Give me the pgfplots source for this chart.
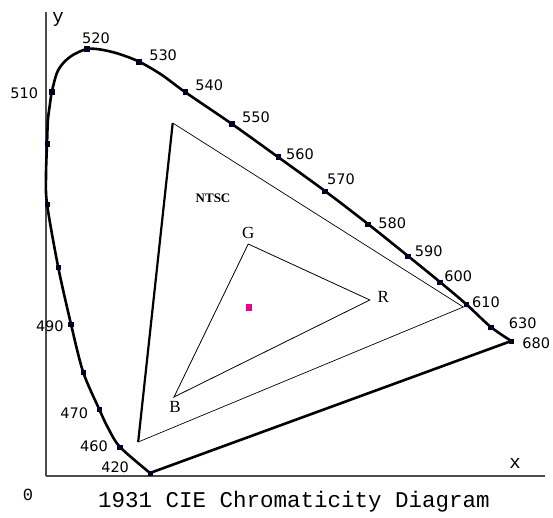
\documentclass[border=0pt]{standalone}
\usepackage{pgfplots}
\pgfplotsset{compat=1.18}
\usepackage{fontspec}
\setmainfont{Liberation Serif}
\newfontfamily\lblfont{DejaVu Sans}
\newfontfamily\monofont{Liberation Mono}
\tikzset{wl/.style={font=\lblfont\fontsize{14.5}{16}\selectfont, inner sep=0pt}}

\begin{document}
\begin{tikzpicture}
\useasboundingbox (-46pt,-41pt) rectangle (507pt,476pt);
\begin{axis}[
    at={(0pt,0pt)}, anchor=south west,
    x=640pt, y=500pt,
    xmin=0, xmax=0.78, ymin=0, ymax=0.928,
    axis lines=left,
    axis line style={-, line width=1.1pt, color=black!70},
    xtick=\empty, ytick=\empty,
    clip=false,
]
% spectral locus
\addplot[black, line width=2.6pt, smooth, tension=0.5] coordinates {
    (0.1625,0.006) (0.1156,0.058) (0.097,0.096) (0.083,0.134) (0.058,0.208)
    (0.039,0.304) (0.019,0.418) (0.0016,0.544) (0.0,0.602) (0.0016,0.664)
    (0.003,0.712) (0.006,0.742) (0.009,0.768) (0.017,0.806) (0.027,0.826)
    (0.042,0.842) (0.064,0.854) (0.085,0.853) (0.112,0.845) (0.145,0.829)
    (0.180,0.803) (0.2172,0.768) (0.2906,0.704) (0.3625,0.638) (0.4359,0.570)
    (0.5031,0.504) (0.5656,0.440) (0.6156,0.388) (0.6563,0.344) (0.695,0.298)
    (0.727,0.270)
};
% purple line
\addplot[black, line width=2.6pt] coordinates {(0.727,0.270) (0.1625,0.006)};
% wavelength marks
\addplot[only marks, mark=square*, mark size=2.3pt, color=black!85!blue] coordinates {
    (0.1625,0.006) (0.1156,0.058) (0.083,0.134) (0.058,0.208) (0.039,0.304)
    (0.019,0.418) (0.0016,0.544) (0.0016,0.664) (0.009,0.768) (0.064,0.854)
    (0.145,0.829) (0.2172,0.768) (0.2906,0.704) (0.3625,0.638) (0.4359,0.570)
    (0.5031,0.504) (0.5656,0.440) (0.6156,0.388) (0.6563,0.344) (0.695,0.298)
    (0.727,0.270)
};
% NTSC gamut
\addplot[black, line width=0.7pt] coordinates {(0.198,0.706) (0.652,0.338) (0.144,0.068)};
\addplot[black, line width=2.2pt] coordinates {(0.144,0.068) (0.198,0.706)};
% device gamut
\addplot[black, line width=0.8pt] coordinates {(0.316,0.464) (0.506,0.352) (0.200,0.158) (0.316,0.464)};
% white point
\addplot[only marks, mark=square*, mark size=2.8pt, color=magenta] coordinates {(0.317,0.338)};

\node[wl] at (0.078,0.876) {520};
\node[wl] at (0.183,0.842) {530};
\node[wl] at (0.255,0.782) {540};
\node[wl] at (0.328,0.718) {550};
\node[wl] at (0.397,0.644) {560};
\node[wl] at (0.461,0.594) {570};
\node[wl] at (0.541,0.506) {580};
\node[wl] at (0.598,0.450) {590};
\node[wl] at (0.644,0.400) {600};
\node[wl] at (0.6875,0.348) {610};
\node[wl] at (0.745,0.306) {630};
\node[wl] at (0.766,0.266) {680};
\node[wl] at (-0.034,0.766) {510};
\node[wl] at (0.006,0.300) {490};
\node[wl] at (0.044,0.126) {470};
\node[wl] at (0.075,0.060) {460};
\node[wl] at (0.108,0.018) {420};

\node[font=\fontsize{13}{14}\selectfont\bfseries, inner sep=0pt] at (0.261,0.556) {NTSC};
\node[font=\fontsize{17}{18}\selectfont, inner sep=0pt] at (0.316,0.486) {G};
\node[font=\fontsize{17}{18}\selectfont, inner sep=0pt] at (0.527,0.358) {R};
\node[font=\fontsize{17}{18}\selectfont, inner sep=0pt] at (0.2016,0.138) {B};

\node[font=\monofont\fontsize{19}{20}\selectfont, inner sep=0pt] at (0.019,0.914) {y};
\node[font=\monofont\fontsize{19}{20}\selectfont, inner sep=0pt] at (0.733,0.026) {x};
\node[font=\monofont\fontsize{17}{18}\selectfont, inner sep=0pt] at (-0.028,-0.038) {0};
\node[font=\monofont\fontsize{22.5}{24}\selectfont, inner sep=0pt, anchor=base] at (0.3875,-0.062) {1931 CIE Chromaticity Diagram};
\end{axis}
\end{tikzpicture}
\end{document}
